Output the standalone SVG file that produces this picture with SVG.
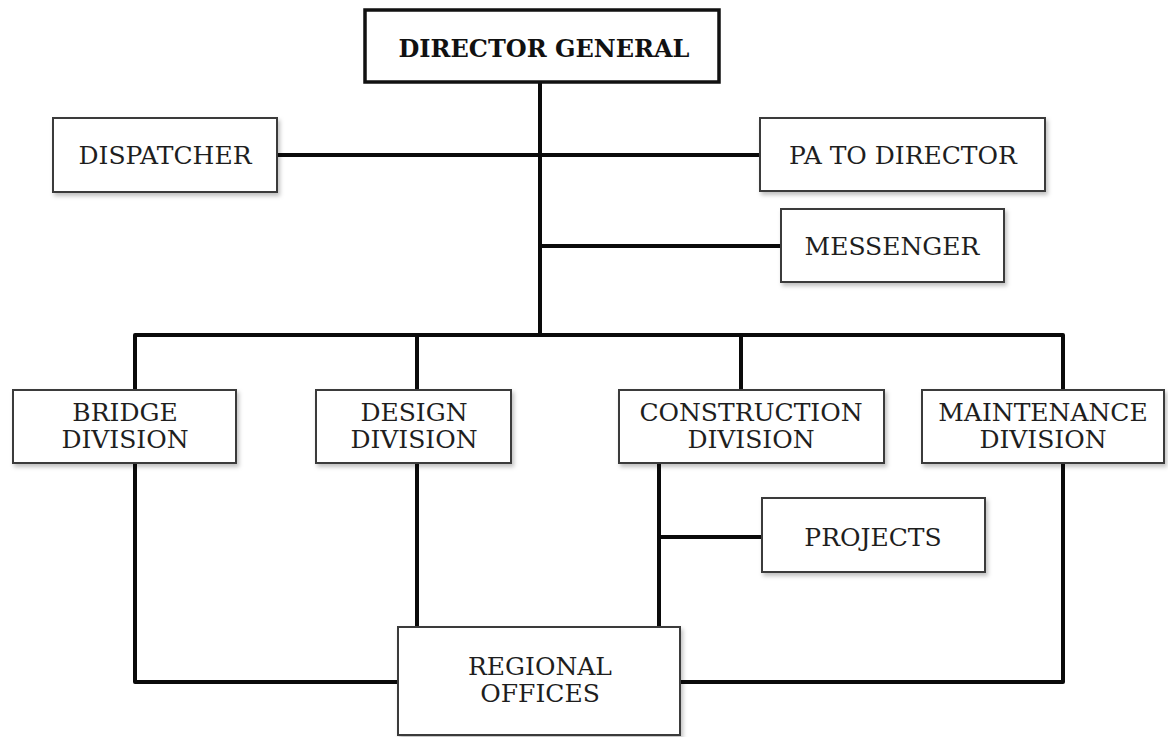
<svg xmlns="http://www.w3.org/2000/svg" width="1168" height="737" viewBox="0 0 1168 737">
  <style>
    .box { fill: #ffffff; stroke: #3a3a3a; stroke-width: 2; filter: url(#shadow); }
    .head { fill: #ffffff; stroke: #111111; stroke-width: 3.5; }
    .lbl { font-family: "DejaVu Serif", "Liberation Serif", serif; font-size: 25px; fill: #1e1e1e; text-anchor: middle; }
    .hlbl { font-family: "DejaVu Serif", "Liberation Serif", serif; font-size: 24px; font-weight: bold; fill: #111111; text-anchor: middle; }
    .wire { fill: none; stroke: #0a0a0a; stroke-width: 4; stroke-linejoin: round; stroke-linecap: square; }
  </style>
  <defs>
    <filter id="shadow" x="-10%" y="-10%" width="130%" height="140%">
      <feDropShadow dx="2" dy="3" stdDeviation="2" flood-color="#000000" flood-opacity="0.25"/>
    </filter>
  </defs>
  <rect width="1168" height="737" fill="#ffffff"/>

  <!-- reporting lines -->
  <g id="connectors">
    <path class="wire" d="M540 82 V335"/>
    <path class="wire" d="M277 155 H760"/>
    <path class="wire" d="M540 246 H781"/>
    <path class="wire" d="M135 390 V335 H1063 V390"/>
    <path class="wire" d="M417 335 V390"/>
    <path class="wire" d="M741 335 V390"/>
    <path class="wire" d="M135 463 V682 H398"/>
    <path class="wire" d="M417 463 V627"/>
    <path class="wire" d="M659 463 V627"/>
    <path class="wire" d="M659 537 H762"/>
    <path class="wire" d="M1063 463 V682 H680"/>
  </g>

  <g id="director-general">
    <rect class="head" x="365" y="10" width="354" height="72"/>
    <text class="hlbl" x="544" y="57">DIRECTOR GENERAL</text>
  </g>
  <g id="dispatcher">
    <rect class="box" x="53" y="118" width="224" height="74"/>
    <text class="lbl" x="165" y="164">DISPATCHER</text>
  </g>
  <g id="pa-to-director">
    <rect class="box" x="760" y="118" width="285" height="73"/>
    <text class="lbl" x="903" y="164">PA TO DIRECTOR</text>
  </g>
  <g id="messenger">
    <rect class="box" x="781" y="209" width="223" height="73"/>
    <text class="lbl" x="892" y="255">MESSENGER</text>
  </g>
  <g id="bridge-division">
    <rect class="box" x="13" y="390" width="223" height="73"/>
    <text class="lbl" x="125" y="421">BRIDGE</text>
    <text class="lbl" x="125" y="448">DIVISION</text>
  </g>
  <g id="design-division">
    <rect class="box" x="316" y="390" width="195" height="73"/>
    <text class="lbl" x="414" y="421">DESIGN</text>
    <text class="lbl" x="414" y="448">DIVISION</text>
  </g>
  <g id="construction-division">
    <rect class="box" x="619" y="390" width="265" height="73"/>
    <text class="lbl" x="751" y="421">CONSTRUCTION</text>
    <text class="lbl" x="751" y="448">DIVISION</text>
  </g>
  <g id="maintenance-division">
    <rect class="box" x="922" y="390" width="242" height="73"/>
    <text class="lbl" x="1043" y="421">MAINTENANCE</text>
    <text class="lbl" x="1043" y="448">DIVISION</text>
  </g>
  <g id="projects">
    <rect class="box" x="762" y="498" width="223" height="74"/>
    <text class="lbl" x="873" y="546">PROJECTS</text>
  </g>
  <g id="regional-offices">
    <rect class="box" x="398" y="627" width="282" height="108"/>
    <text class="lbl" x="540" y="675">REGIONAL</text>
    <text class="lbl" x="540" y="702">OFFICES</text>
  </g>
</svg>
